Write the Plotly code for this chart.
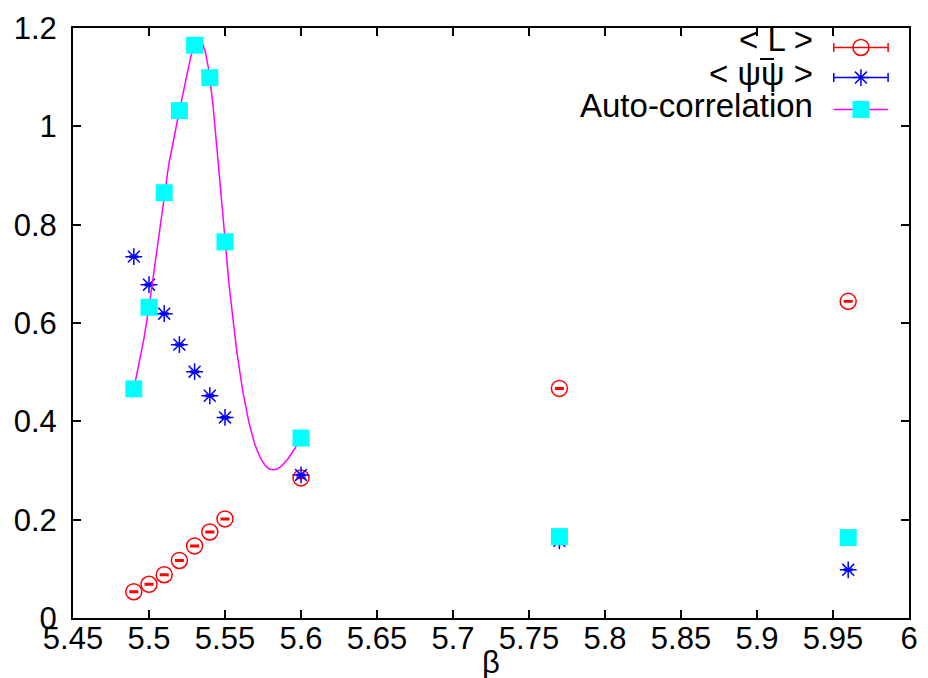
import numpy as np
import plotly.graph_objects as go

# ---- data ----
beta = [5.49, 5.50, 5.51, 5.52, 5.53, 5.54, 5.55, 5.60, 5.77, 5.96]
L_vals = [0.0535, 0.0686, 0.088, 0.117, 0.1466, 0.175, 0.2015, 0.285, 0.467, 0.644]
L_err = [0.001] * len(beta)
psi_vals = [0.735, 0.678, 0.619, 0.556, 0.501, 0.452, 0.408, 0.291, 0.157, 0.098]
psi_err = [0.001] * len(beta)
ac_vals = [0.466, 0.632, 0.865, 1.032, 1.165, 1.099, 0.765, 0.366, 0.1655, 0.1635]
n_fit = 8  # spline drawn through the first 8 auto-correlation points

x_ticks = [5.45, 5.5, 5.55, 5.6, 5.65, 5.7, 5.75, 5.8, 5.85, 5.9, 5.95, 6.0]
x_ticktext = ["5.45", "5.5", "5.55", "5.6", "5.65", "5.7", "5.75", "5.8", "5.85", "5.9", "5.95", "6"]
y_ticks = [0, 0.2, 0.4, 0.6, 0.8, 1.0, 1.2]
y_ticktext = ["0", "0.2", "0.4", "0.6", "0.8", "1", "1.2"]

legend_labels = ["&lt; L &gt;", "&lt; ψψ &gt;", "Auto-correlation"]
x_title = "β"


def natural_cubic_spline(x, y, xs):
    x = np.asarray(x, float)
    y = np.asarray(y, float)
    n = len(x)
    h = np.diff(x)
    A = np.zeros((n, n))
    b = np.zeros(n)
    A[0, 0] = 1
    A[-1, -1] = 1
    for i in range(1, n - 1):
        A[i, i - 1] = h[i - 1]
        A[i, i] = 2 * (h[i - 1] + h[i])
        A[i, i + 1] = h[i]
        b[i] = 3 * ((y[i + 1] - y[i]) / h[i] - (y[i] - y[i - 1]) / h[i - 1])
    c = np.linalg.solve(A, b)
    out = np.empty_like(xs)
    for k, xv in enumerate(xs):
        i = min(max(np.searchsorted(x, xv) - 1, 0), n - 2)
        bi = (y[i + 1] - y[i]) / h[i] - h[i] * (2 * c[i] + c[i + 1]) / 3
        di = (c[i + 1] - c[i]) / (3 * h[i])
        dx = xv - x[i]
        out[k] = y[i] + bi * dx + c[i] * dx ** 2 + di * dx ** 3
    return out


xs = np.linspace(beta[0], beta[n_fit - 1], 400)
ys = natural_cubic_spline(beta[:n_fit], ac_vals[:n_fit], xs)

FONT = "Liberation Sans, Arial, sans-serif"
RED = "#ff0000"
BLUE = "#0000ff"
MAG = "#ff00ff"
CYAN = "#00ffff"

fig = go.Figure()

fig.add_trace(go.Scatter(
    x=beta, y=L_vals, mode="markers",
    marker=dict(symbol="circle-open", size=16, color=RED, line=dict(width=1.5, color=RED)),
    error_y=dict(type="data", array=L_err, color=RED, thickness=2, width=4.5),
    showlegend=False))

fig.add_trace(go.Scatter(
    x=beta, y=psi_vals, mode="markers",
    marker=dict(symbol="asterisk-open", size=14, color=BLUE, line=dict(width=1.5, color=BLUE)),
    error_y=dict(type="data", array=psi_err, color=BLUE, thickness=2, width=4.5),
    showlegend=False))

fig.add_trace(go.Scatter(
    x=xs, y=ys, mode="lines", line=dict(color=MAG, width=1.5), showlegend=False))

fig.add_trace(go.Scatter(
    x=beta, y=ac_vals, mode="markers",
    marker=dict(symbol="square", size=17, color=CYAN, line=dict(width=0)),
    showlegend=False))

# ---- custom legend (samples on the right of right-aligned text) ----
sample_rows = [0.967, 0.916, 0.862]
text_rows = [0.9800, 0.9228, 0.8694]
leg_x0, leg_x1 = 0.910, 0.975
leg_xc = (leg_x0 + leg_x1) / 2
half = (leg_x1 - leg_x0) / 2

fig.add_trace(go.Scatter(
    x=[leg_xc], y=[sample_rows[0]], xaxis="x2", yaxis="y2", mode="markers",
    marker=dict(symbol="circle-open", size=16, color=RED, line=dict(width=1.5, color=RED)),
    error_x=dict(type="constant", value=half, color=RED, thickness=1.5, width=4.5),
    showlegend=False, hoverinfo="skip"))
fig.add_trace(go.Scatter(
    x=[leg_xc], y=[sample_rows[1]], xaxis="x2", yaxis="y2", mode="markers",
    marker=dict(symbol="asterisk-open", size=14, color=BLUE, line=dict(width=1.5, color=BLUE)),
    error_x=dict(type="constant", value=half, color=BLUE, thickness=1.5, width=4.5),
    showlegend=False, hoverinfo="skip"))
fig.add_trace(go.Scatter(
    x=[leg_x0, leg_x1], y=[sample_rows[2], sample_rows[2]], xaxis="x2", yaxis="y2", mode="lines",
    line=dict(color=MAG, width=1.5), showlegend=False, hoverinfo="skip"))
fig.add_trace(go.Scatter(
    x=[leg_xc], y=[sample_rows[2]], xaxis="x2", yaxis="y2", mode="markers",
    marker=dict(symbol="square", size=17, color=CYAN, line=dict(width=0)),
    showlegend=False, hoverinfo="skip"))

LEG_SIZE = 33
for lab, yy in zip(legend_labels, text_rows):
    fig.add_annotation(text=lab, xref="x2", yref="y2", x=0.888, y=yy,
                       xanchor="right", yanchor="middle", showarrow=False,
                       font=dict(family=FONT, size=LEG_SIZE, color="black"))

# overline bar over the first psi of the second legend label
fig.add_shape(type="line", xref="x2", yref="y2",
              x0=0.8218, x1=0.8385, y0=0.9475, y1=0.9475,
              line=dict(color="black", width=2))

fig.add_annotation(text=x_title, xref="paper", yref="paper", x=0.5, y=0,
                   xanchor="center", yanchor="middle", yshift=-44, showarrow=False,
                   font=dict(family=FONT, size=31, color="black"))

axis_common = dict(
    showline=True, linecolor="black", linewidth=2, mirror="all",
    ticks="inside", ticklen=8, tickwidth=2, tickcolor="black",
    showgrid=False, zeroline=False, automargin=False,
    tickfont=dict(family=FONT, size=31, color="black"))

fig.update_layout(
    width=928, height=678,
    margin=dict(l=73, r=19, t=28, b=60),
    paper_bgcolor="white", plot_bgcolor="white",
    xaxis=dict(range=[5.45, 6.0], tickvals=x_ticks, ticktext=x_ticktext,
               ticklabelstandoff=-8, **axis_common),
    yaxis=dict(range=[0, 1.2], tickvals=y_ticks, ticktext=y_ticktext,
               ticklabelstandoff=8, **axis_common),
    xaxis2=dict(range=[0, 1], overlaying="x", visible=False),
    yaxis2=dict(range=[0, 1], overlaying="y", visible=False),
)

fig.write_html("out.html")
